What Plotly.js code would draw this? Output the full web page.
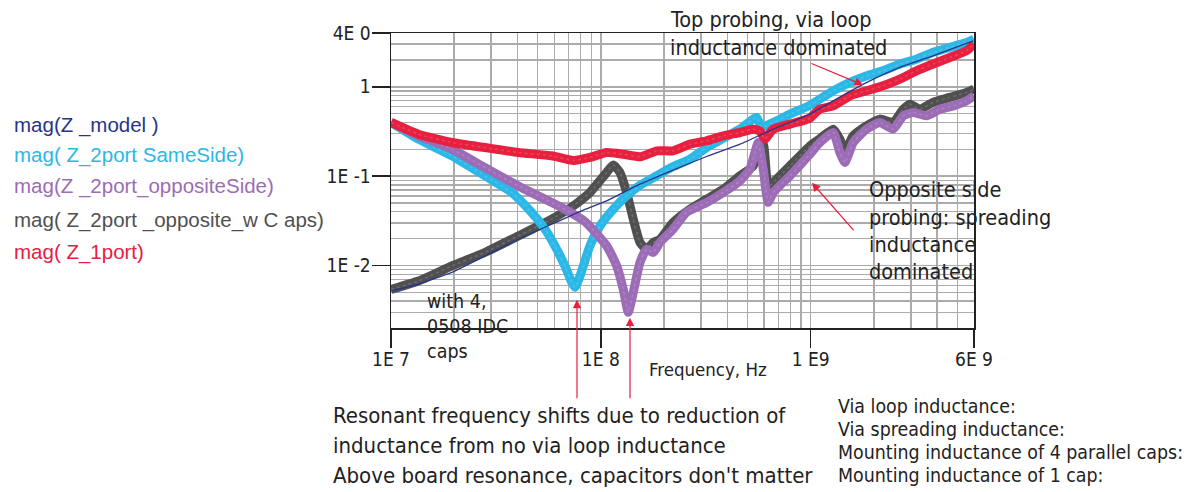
<!DOCTYPE html>
<html>
<head>
<meta charset="utf-8">
<script src="https://cdn.plot.ly/plotly-3.0.1.min.js"></script>
<style>html,body{margin:0;padding:0;background:#fff;}#chart{width:1198px;height:492px;}</style>
</head>
<body>
<div id="chart"></div>
<script>
// ---------- data (Hz, ohm) ----------
const freqModel = [1e7,1.35e7,1.95e7,2.8e7,4.04e7,5.83e7,8.1e7,1.066e8,1.536e8,2.21e8,3.19e8,4.6e8,6.63e8,9.9e8,1.28e9,1.85e9,2.66e9,3.83e9,5.94e9];
const zModel    = [0.0052,0.0062,0.0084,0.0128,0.0197,0.029,0.0409,0.0529,0.0813,0.117,0.166,0.228,0.336,0.494,0.697,1.12,1.65,2.22,3.27];

const freqSame = [1e7,1.35e7,1.95e7,2.8e7,3.76e7,4.68e7,5.42e7,6.04e7,6.74e7,7.26e7,7.53e7,7.95e7,8.87e7,9.9e7,1.146e8,1.327e8,1.536e8,1.845e8,2.21e8,2.66e8,3.19e8,3.83e8,4.6e8,5.52e8,5.83e8,6.63e8,7.96e8,9.9e8,1.28e9,1.54e9,1.85e9,2.21e9,2.66e9,3.19e9,3.83e9,4.6e9,5.53e9,6e9];
const zSame    = [0.40,0.26,0.169,0.101,0.0657,0.0392,0.0255,0.0166,0.0099,0.0065,0.0057,0.0076,0.0166,0.0277,0.0427,0.0602,0.079,0.101,0.128,0.155,0.209,0.265,0.336,0.454,0.354,0.399,0.494,0.62,0.902,1.12,1.33,1.51,1.80,2.04,2.43,2.76,3.14,3.4];

const freqOpp = [1e7,1.35e7,1.95e7,2.8e7,4.04e7,5.42e7,6.74e7,8.4e7,1.066e8,1.19e8,1.279e8,1.351e8,1.427e8,1.536e8,1.652e8,1.777e8,1.912e8,2.21e8,2.56e8,3.19e8,3.83e8,4.6e8,5.13e8,5.42e8,5.62e8,5.94e8,6.27e8,6.63e8,7.96e8,9.9e8,1.106e9,1.28e9,1.377e9,1.455e9,1.594e9,1.847e9,2.137e9,2.47e9,2.76e9,3.08e9,3.56e9,4.13e9,4.78e9,5.53e9,6e9];
const zOpp    = [0.40,0.283,0.201,0.125,0.0778,0.0552,0.0427,0.031,0.0166,0.0099,0.0054,0.0030,0.0050,0.0108,0.0152,0.014,0.0181,0.0255,0.0395,0.0507,0.0657,0.0886,0.120,0.184,0.238,0.120,0.051,0.0657,0.101,0.176,0.238,0.308,0.184,0.142,0.238,0.336,0.399,0.336,0.473,0.516,0.473,0.562,0.612,0.697,0.793];

const freqCaps = [1e7,1.35e7,1.95e7,2.8e7,4.04e7,5.83e7,7.39e7,8.87e7,1.066e8,1.146e8,1.233e8,1.327e8,1.427e8,1.536e8,1.652e8,1.777e8,1.912e8,2.21e8,2.66e8,3.19e8,3.83e8,4.6e8,5.32e8,5.62e8,5.94e8,6.27e8,6.63e8,7.96e8,9.9e8,1.1e9,1.28e9,1.377e9,1.455e9,1.594e9,1.847e9,2.137e9,2.47e9,2.76e9,2.97e9,3.31e9,3.83e9,4.6e9,5.53e9,6e9];
const zCaps    = [0.0054,0.0067,0.0099,0.014,0.0214,0.033,0.0465,0.0657,0.110,0.133,0.110,0.0657,0.033,0.0181,0.0152,0.0181,0.0197,0.0303,0.0427,0.0552,0.0715,0.101,0.130,0.201,0.228,0.075,0.085,0.130,0.217,0.26,0.336,0.26,0.19,0.283,0.366,0.435,0.399,0.562,0.640,0.562,0.669,0.761,0.865,0.943];

const freqOne = [1e7,1.35e7,1.95e7,2.8e7,4.04e7,5.83e7,7.4e7,8.87e7,1.066e8,1.28e8,1.54e8,1.85e8,2.21e8,2.66e8,3.19e8,3.83e8,4.6e8,5.32e8,5.73e8,6.05e8,6.63e8,7.96e8,9.9e8,1.1e9,1.28e9,1.54e9,1.85e9,2.21e9,2.66e9,3.19e9,3.83e9,4.6e9,5.53e9,6e9];
const zOne    = [0.40,0.295,0.238,0.209,0.184,0.169,0.150,0.162,0.184,0.176,0.165,0.192,0.192,0.228,0.249,0.283,0.308,0.336,0.32,0.26,0.336,0.382,0.445,0.562,0.612,0.793,0.902,1.03,1.22,1.51,1.80,2.13,2.53,3.0];

const seriesNames = ['mag(Z _model )','mag( Z_2port SameSide)','mag(Z _2port_oppositeSide)','mag( Z_2port _opposite_w C aps)','mag( Z_1port)'];
const seriesColors = ['#28358a','#2bb8e6','#9c6cb6','#505050','#e6203e'];

const xTickVals = [1e7,1e8,1e9,6e9];
const xTickText = ['1E 7','1E 8','1 E9','6E 9'];
const yTickVals = [4,1,0.1,0.01];
const yTickText = ['4E 0','1','1E -1','1E -2'];
const xMinor = [2e7,3e7,4e7,5e7,6e7,7e7,8e7,9e7,2e8,3e8,4e8,5e8,6e8,7e8,8e8,9e8,2e9,3e9,4e9,5e9];
const yMinor = [0.003,0.004,0.005,0.006,0.007,0.008,0.009,0.02,0.03,0.04,0.05,0.06,0.07,0.08,0.09,0.2,0.3,0.4,0.5,0.6,0.7,0.8,0.9,2,3];

// ---------- layout helpers ----------
const L = 391, R = 974, T = 33, B = 328.3;
const px = x => (x - L) / (R - L);
const py = y => (B - y) / (B - T);
const NARROW = '"Liberation Sans Narrow", "DejaVu Sans Condensed", "Arial Narrow", sans-serif';
const REG = '"Liberation Sans", Arial, sans-serif';

function band(x, y, color, w) {
  return {x: x, y: y, type: 'scatter', mode: 'lines', line: {color: color, width: w, shape: 'spline', smoothing: 0.5}, hoverinfo: 'skip'};
}
function sheen(x, y) {
  return {x: x, y: y, type: 'scatter', mode: 'lines', line: {color: 'rgba(255,255,255,0.16)', width: 1.5, dash: 'dot', shape: 'spline', smoothing: 0.5}, hoverinfo: 'skip'};
}
const traces = [
  band(freqCaps, zCaps, seriesColors[3], 9), sheen(freqCaps, zCaps),
  band(freqSame, zSame, seriesColors[1], 9), sheen(freqSame, zSame),
  band(freqOpp, zOpp, seriesColors[2], 9), sheen(freqOpp, zOpp),
  band(freqOne, zOne, seriesColors[4], 9), sheen(freqOne, zOne),
  band(freqModel, zModel, seriesColors[0], 1.3)
];

const ann = [];
function txt(x, y, s, size, color, font, anchor) {
  ann.push({xref: 'paper', yref: 'paper', x: px(x), y: py(y), text: s, showarrow: false,
    xanchor: anchor || 'left', yanchor: 'middle', font: {family: font || NARROW, size: size, color: color || '#222'}});
}
function arrow(hx, hy, tx, ty) {
  ann.push({xref: 'paper', yref: 'paper', x: px(hx), y: py(hy), text: '', showarrow: true,
    ax: tx - hx, ay: ty - hy, arrowhead: 2, arrowsize: 1.4, arrowwidth: 1.2, arrowcolor: '#e6203e', standoff: 0});
}
// legend texts
const legendY = [125, 155, 186, 220, 252];
seriesNames.forEach((n, i) => txt(12, legendY[i], n, 20.5, seriesColors[i], REG));
// annotations
txt(668, 19, 'Top probing, via loop', 21.5);
txt(668, 48, 'inductance dominated', 21.5);
arrow(863, 85, 810, 63);
['Opposite side', 'probing: spreading', 'inductance', 'dominated'].forEach((s, i) => txt(867, 190 + i * 27.4, s, 21.5));
arrow(812, 183, 855, 232);
['with 4,', '0508 IDC', 'caps'].forEach((s, i) => txt(425, 302 + i * 25, s, 19.5));
arrow(577, 300, 577, 400);
arrow(630, 318, 630, 400);
txt(708, 370, 'Frequency, Hz', 18.5, '#222', NARROW, 'center');
['Resonant frequency shifts due to reduction of', 'inductance from no via loop inductance', 'Above board resonance, capacitors don\'t matter'].forEach((s, i) => txt(331, 416 + i * 30, s, 22));
['Via loop inductance:', 'Via spreading inductance:', 'Mounting inductance of 4 parallel caps:', 'Mounting inductance of 1 cap:'].forEach((s, i) => txt(836, 407 + i * 23, s, 19.4));

const gridC = '#ababab';
const layout = {
  width: 1198, height: 492,
  margin: {l: L, r: 1198 - R, t: T, b: 492 - B, pad: 0},
  paper_bgcolor: '#fff', plot_bgcolor: '#fff',
  showlegend: false,
  xaxis: {type: 'log', range: [7, Math.log10(6e9)], tickmode: 'array', tickvals: xTickVals, ticktext: xTickText,
    ticks: 'outside', ticklen: 18, tickwidth: 1.5, tickcolor: '#222', showgrid: true, gridcolor: gridC, gridwidth: 1.4,
    showline: true, linecolor: '#222', linewidth: 1.5, mirror: true, zeroline: false, ticklabelstandoff: -4,
    tickfont: {family: NARROW, size: 19, color: '#222'},
    minor: {tickmode: 'array', tickvals: xMinor, showgrid: true, gridcolor: gridC, gridwidth: 1.4, ticks: ''}},
  yaxis: {type: 'log', range: [Math.log10(0.002), Math.log10(4)], tickmode: 'array', tickvals: yTickVals, ticktext: yTickText,
    ticks: 'outside', ticklen: 18, tickwidth: 1.5, tickcolor: '#222', showgrid: true, gridcolor: gridC, gridwidth: 1.4,
    showline: true, linecolor: '#222', linewidth: 1.5, mirror: true, zeroline: false, ticklabelstandoff: -3,
    tickfont: {family: NARROW, size: 19, color: '#222'},
    minor: {tickmode: 'array', tickvals: yMinor, showgrid: true, gridcolor: gridC, gridwidth: 1.4, ticks: ''}},
  annotations: ann
};
Plotly.newPlot('chart', traces, layout, {displayModeBar: false, staticPlot: true});
</script>
</body>
</html>
